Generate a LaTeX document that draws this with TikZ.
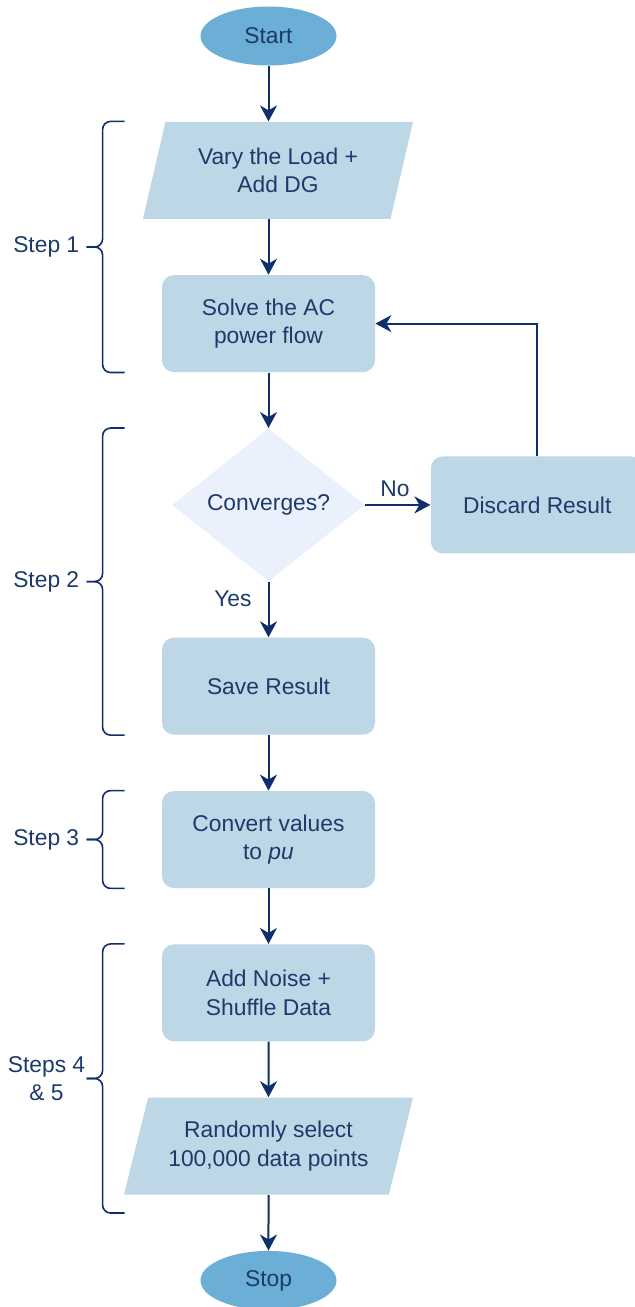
\documentclass[tikz,border=0pt]{standalone}
\usepackage{fontspec}
\setmainfont{Liberation Sans}
\usepackage{xcolor}
\usetikzlibrary{shapes.geometric, arrows.meta, positioning, calc}
\definecolor{cNavy}{HTML}{0E2F6B}
\definecolor{cText}{HTML}{1C3A6A}
\definecolor{cBox}{HTML}{BED7E7}
\definecolor{cTerm}{HTML}{6BAED6}
\definecolor{cDec}{HTML}{EBF1FC}

\begin{document}
\begin{tikzpicture}[
  node distance=27.75pt,
  every node/.style={font=\fontsize{11.4}{14.2}\selectfont, text=cText, align=center},
  term/.style={ellipse, fill=cTerm, minimum width=68pt, minimum height=29.5pt, inner sep=0pt},
  proc/.style={rectangle, rounded corners=6pt, fill=cBox, minimum width=106.5pt, minimum height=48.5pt},
  io/.style={
    trapezium, trapezium left angle=69, trapezium right angle=111,
    trapezium stretches body, fill=cBox, minimum height=48.5pt,
  },
  decision/.style={diamond, fill=cDec, minimum width=96.5pt, minimum height=76.5pt, inner sep=0pt},
  arr/.style={draw=cNavy, line width=1pt, -{Stealth[length=8pt, width=8.5pt, inset=2.5pt]}},
  stepbrace/.style={draw=cNavy, line width=0.8pt, rounded corners=4pt},
  steplabel/.style={inner sep=0pt},
]

\useasboundingbox (0,0) rectangle (317.5pt,-653.5pt);

% ─── MAIN CHAIN ───
\node[term] (start) at (134.25pt,-18pt) {Start};
\node[io, minimum width=135pt, below=of start, xshift=4.75pt] (vary) {Vary the Load +\\Add DG};
\node[proc, below=of vary, xshift=-4.75pt] (solve) {Solve the AC\\power flow};
\node[decision, below=of solve] (conv) {Converges?};
\node[proc, right=32.5pt of conv] (discard) {Discard Result};
\node[proc, below=of conv] (save) {Save Result};
\node[proc, below=of save] (pu) {Convert values\\to \textit{pu}};
\node[proc, below=of pu] (noise) {Add Noise +\\Shuffle Data};
\node[io, minimum width=144.5pt, below=of noise] (select) {Randomly select\\100,000 data points};
\node[term, below=of select] (stop) {Stop};

% ─── ARROWS ───
\draw[arr] (start) -- (start |- vary.north);
\draw[arr] (solve |- vary.south) -- (solve);
\draw[arr] (solve) -- (conv);
\draw[arr] (conv) -- node[above, inner sep=3.5pt, xshift=-1.5pt] {No} (discard);
\draw[arr] (conv) -- node[pos=0.3, left=8pt, inner sep=0pt] {Yes} (save);
\draw[arr] (discard) |- (solve);
\draw[arr] (save) -- (pu);
\draw[arr] (pu) -- (noise);
\draw[arr] (noise) -- (select);
\draw[arr] (select) -- (stop);

% ─── STEP BRACES ───
% step 1
\coordinate (s1t) at ($(vary.north -| solve.west)+(-18.5pt,0)$);
\coordinate (s1b) at ($(solve.south west)+(-18.5pt,0)$);
\coordinate (s1m) at ($(s1t)!0.5!(s1b)+(-19pt,0)$);
\draw[stepbrace] (s1t) -- ++(-11pt,0) |- (s1m);
\draw[stepbrace] (s1b) -- ++(-11pt,0) |- (s1m);
\node[steplabel, left=3.5pt of s1m] (lbl1) {Step 1};
% step 2
\coordinate (s2t) at ($(conv.north -| save.west)+(-18.5pt,0)$);
\coordinate (s2b) at ($(save.south west)+(-18.5pt,0)$);
\coordinate (s2m) at ($(s2t)!0.5!(s2b)+(-19pt,0)$);
\draw[stepbrace] (s2t) -- ++(-11pt,0) |- (s2m);
\draw[stepbrace] (s2b) -- ++(-11pt,0) |- (s2m);
\node[steplabel, left=3.5pt of s2m] (lbl2) {Step 2};
% step 3
\coordinate (s3t) at ($(pu.north west)+(-18.5pt,0)$);
\coordinate (s3b) at ($(pu.south west)+(-18.5pt,0)$);
\coordinate (s3m) at ($(s3t)!0.5!(s3b)+(-19pt,0)$);
\draw[stepbrace] (s3t) -- ++(-11pt,0) |- (s3m);
\draw[stepbrace] (s3b) -- ++(-11pt,0) |- (s3m);
\node[steplabel, left=3.5pt of s3m] (lbl3) {Step 3};
% steps 4 & 5
\coordinate (s4t) at ($(noise.north west)+(-18.5pt,0)$);
\coordinate (s4b) at ($(select.south -| noise.west)+(-18.5pt,-9pt)$);
\coordinate (s4m) at ($(s4t)!0.5!(s4b)+(-19pt,0)$);
\draw[stepbrace] (s4t) -- ++(-11pt,0) |- (s4m);
\draw[stepbrace] (s4b) -- ++(-11pt,0) |- (s4m);
\node[steplabel, left=0.5pt of s4m] (lbl4) {Steps 4\\\& 5};

\end{tikzpicture}
\end{document}
